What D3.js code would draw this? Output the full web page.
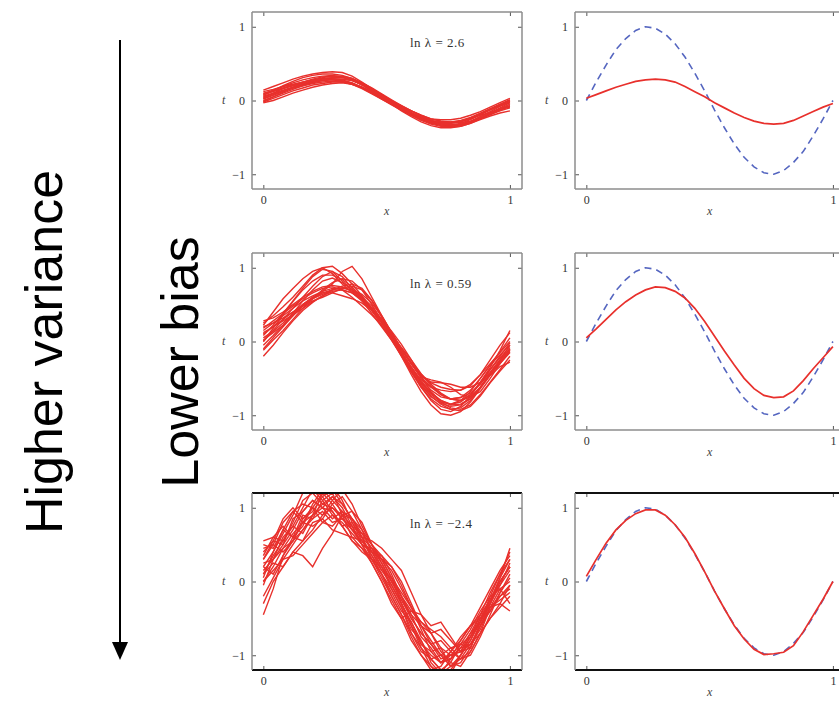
<!DOCTYPE html>
<html>
<head>
<meta charset="utf-8">
<script src="https://cdn.jsdelivr.net/npm/d3@7"></script>
<style>
  body { margin: 0; background: #fff; }
  svg { display: block; }
</style>
</head>
<body>
<svg id="chart" width="839" height="702"></svg>
<script>
const xs = [0, 0.04, 0.08, 0.12, 0.16, 0.2, 0.24, 0.28, 0.32, 0.36, 0.4, 0.44, 0.48,
            0.52, 0.56, 0.6, 0.64, 0.68, 0.72, 0.76, 0.8, 0.84, 0.88, 0.92, 0.96, 1];

const lambdaLabels = ["ln λ = 2.6", "ln λ = 0.59", "ln λ = −2.4"];
const xTicks = [0, 1];
const yTicks = [-1, 0, 1];

// blue dashed curve (true function)
const truth = [0, 0.25, 0.48, 0.69, 0.84, 0.95, 1.0, 0.98, 0.9, 0.77, 0.59, 0.37, 0.13,
               -0.13, -0.37, -0.59, -0.77, -0.9, -0.98, -1.0, -0.95, -0.84, -0.69, -0.48, -0.25, 0];

// red average fit, one per row
const avgTop = [0.03, 0.08, 0.13, 0.18, 0.22, 0.26, 0.28, 0.29, 0.28, 0.25, 0.19, 0.12, 0.05,
                -0.03, -0.1, -0.17, -0.23, -0.28, -0.31, -0.32, -0.31, -0.27, -0.21, -0.15, -0.09, -0.04];
const avgMid = [0.05, 0.17, 0.3, 0.43, 0.54, 0.63, 0.7, 0.74, 0.73, 0.68, 0.59, 0.45, 0.27,
                0.07, -0.13, -0.32, -0.5, -0.64, -0.73, -0.76, -0.75, -0.67, -0.53, -0.37, -0.22, -0.07];
const avgBottom = [0.07, 0.3, 0.52, 0.7, 0.83, 0.92, 0.97, 0.97, 0.9, 0.77, 0.6, 0.38, 0.13,
                   -0.13, -0.37, -0.6, -0.78, -0.92, -0.99, -0.98, -0.96, -0.87, -0.68, -0.46, -0.24, 0.0];

// individual fits, left column
const fitsTop = [
  [0.09,0.14,0.19,0.24,0.28,0.31,0.33,0.34,0.32,0.28,0.21,0.13,0.05,-0.03,-0.11,-0.19,-0.26,-0.31,-0.34,-0.35,-0.33,-0.29,-0.22,-0.15,-0.08,-0.02],
  [-0.02,0.03,0.08,0.13,0.17,0.21,0.23,0.25,0.25,0.23,0.18,0.12,0.06,-0.01,-0.08,-0.14,-0.2,-0.25,-0.28,-0.29,-0.28,-0.25,-0.2,-0.16,-0.12,-0.09],
  [0.04,0.1,0.16,0.21,0.25,0.28,0.3,0.3,0.28,0.24,0.17,0.1,0.02,-0.06,-0.13,-0.2,-0.26,-0.3,-0.33,-0.33,-0.31,-0.26,-0.19,-0.12,-0.06,0.0],
  [0.0,0.05,0.1,0.15,0.2,0.24,0.27,0.29,0.29,0.27,0.22,0.15,0.08,0.0,-0.07,-0.14,-0.2,-0.25,-0.28,-0.3,-0.3,-0.28,-0.24,-0.19,-0.14,-0.1],
  [0.12,0.15,0.19,0.22,0.25,0.28,0.3,0.31,0.31,0.28,0.23,0.16,0.08,0.0,-0.08,-0.16,-0.23,-0.29,-0.33,-0.35,-0.34,-0.3,-0.24,-0.17,-0.1,-0.03],
  [0.02,0.07,0.12,0.17,0.21,0.25,0.27,0.28,0.27,0.24,0.18,0.11,0.03,-0.05,-0.12,-0.18,-0.24,-0.28,-0.3,-0.31,-0.29,-0.25,-0.19,-0.13,-0.07,-0.01],
  [0.06,0.1,0.14,0.18,0.22,0.26,0.29,0.31,0.31,0.29,0.24,0.17,0.09,0.01,-0.07,-0.14,-0.21,-0.27,-0.31,-0.33,-0.33,-0.3,-0.25,-0.19,-0.13,-0.07],
  [-0.01,0.05,0.11,0.17,0.22,0.26,0.28,0.28,0.26,0.22,0.16,0.09,0.02,-0.05,-0.12,-0.19,-0.24,-0.28,-0.3,-0.3,-0.28,-0.24,-0.18,-0.12,-0.07,-0.03],
  [0.08,0.12,0.16,0.2,0.23,0.26,0.28,0.29,0.29,0.27,0.22,0.15,0.07,-0.02,-0.1,-0.18,-0.25,-0.3,-0.33,-0.34,-0.32,-0.28,-0.22,-0.16,-0.11,-0.07],
  [0.03,0.08,0.13,0.18,0.23,0.27,0.31,0.33,0.33,0.3,0.24,0.16,0.07,-0.02,-0.1,-0.17,-0.23,-0.27,-0.29,-0.29,-0.27,-0.23,-0.17,-0.11,-0.05,0.01],
  [0.05,0.09,0.13,0.17,0.2,0.23,0.25,0.26,0.25,0.22,0.17,0.1,0.03,-0.04,-0.11,-0.18,-0.24,-0.29,-0.32,-0.33,-0.32,-0.29,-0.24,-0.18,-0.13,-0.08],
  [0.1,0.13,0.17,0.21,0.25,0.29,0.32,0.33,0.32,0.28,0.21,0.13,0.04,-0.04,-0.12,-0.19,-0.25,-0.29,-0.31,-0.31,-0.29,-0.24,-0.18,-0.12,-0.06,-0.01],
  [0.14,0.19,0.24,0.29,0.33,0.36,0.38,0.39,0.38,0.33,0.25,0.16,0.07,-0.02,-0.1,-0.17,-0.22,-0.25,-0.26,-0.26,-0.24,-0.2,-0.15,-0.09,-0.03,0.03],
  [-0.03,0.0,0.05,0.1,0.14,0.18,0.21,0.23,0.24,0.22,0.18,0.12,0.04,-0.05,-0.14,-0.22,-0.29,-0.34,-0.37,-0.37,-0.35,-0.31,-0.26,-0.21,-0.17,-0.14],
  [0.07,0.13,0.2,0.26,0.31,0.34,0.36,0.36,0.34,0.3,0.23,0.15,0.06,-0.03,-0.12,-0.2,-0.27,-0.32,-0.35,-0.36,-0.35,-0.31,-0.25,-0.18,-0.11,-0.05]
];

const fitsMid = [
  [0.25,0.35,0.47,0.6,0.75,0.9,1.0,1.02,0.92,0.78,0.62,0.45,0.26,0.06,-0.15,-0.35,-0.55,-0.7,-0.8,-0.85,-0.82,-0.72,-0.56,-0.38,-0.2,-0.02],
  [-0.2,-0.05,0.12,0.28,0.42,0.53,0.62,0.7,0.73,0.7,0.6,0.45,0.27,0.07,-0.14,-0.34,-0.53,-0.69,-0.8,-0.86,-0.85,-0.77,-0.62,-0.45,-0.3,-0.15],
  [0.1,0.2,0.3,0.4,0.5,0.58,0.64,0.7,0.75,0.78,0.72,0.56,0.33,0.1,-0.12,-0.3,-0.45,-0.56,-0.62,-0.65,-0.66,-0.6,-0.45,-0.25,-0.05,0.12],
  [0.0,0.15,0.3,0.45,0.6,0.75,0.88,0.95,0.88,0.72,0.55,0.38,0.2,0.02,-0.18,-0.4,-0.62,-0.8,-0.92,-0.95,-0.88,-0.74,-0.56,-0.38,-0.22,-0.08],
  [0.2,0.25,0.32,0.4,0.48,0.55,0.6,0.66,0.72,0.75,0.7,0.55,0.35,0.12,-0.1,-0.3,-0.48,-0.62,-0.72,-0.78,-0.8,-0.75,-0.62,-0.45,-0.28,-0.12],
  [0.08,0.22,0.38,0.55,0.72,0.88,0.98,0.95,0.82,0.7,0.6,0.48,0.3,0.08,-0.15,-0.36,-0.56,-0.72,-0.82,-0.85,-0.8,-0.68,-0.5,-0.32,-0.18,-0.05],
  [-0.1,0.05,0.2,0.35,0.5,0.6,0.68,0.72,0.72,0.7,0.64,0.52,0.34,0.12,-0.1,-0.3,-0.47,-0.55,-0.56,-0.58,-0.62,-0.62,-0.55,-0.42,-0.25,-0.05],
  [0.15,0.25,0.35,0.45,0.55,0.62,0.68,0.78,0.95,1.02,0.85,0.6,0.35,0.12,-0.1,-0.3,-0.5,-0.66,-0.75,-0.78,-0.76,-0.7,-0.58,-0.42,-0.25,-0.1],
  [0.02,0.12,0.22,0.35,0.48,0.58,0.66,0.7,0.7,0.66,0.58,0.44,0.26,0.05,-0.16,-0.38,-0.58,-0.74,-0.85,-0.92,-0.94,-0.88,-0.74,-0.56,-0.4,-0.25],
  [0.28,0.32,0.4,0.5,0.6,0.68,0.74,0.76,0.74,0.68,0.58,0.44,0.26,0.05,-0.16,-0.36,-0.52,-0.62,-0.66,-0.68,-0.66,-0.58,-0.45,-0.3,-0.15,0.0],
  [0.0,0.18,0.36,0.54,0.7,0.82,0.9,0.9,0.84,0.74,0.6,0.42,0.22,0.02,-0.2,-0.42,-0.62,-0.78,-0.88,-0.92,-0.9,-0.8,-0.62,-0.44,-0.28,-0.14],
  [0.12,0.2,0.28,0.36,0.45,0.54,0.62,0.68,0.7,0.66,0.56,0.42,0.25,0.08,-0.08,-0.25,-0.44,-0.6,-0.72,-0.78,-0.76,-0.66,-0.5,-0.32,-0.14,0.05],
  [-0.05,0.08,0.22,0.38,0.55,0.7,0.82,0.86,0.8,0.7,0.58,0.44,0.3,0.14,-0.04,-0.25,-0.48,-0.68,-0.82,-0.9,-0.92,-0.86,-0.72,-0.55,-0.38,-0.2],
  [0.18,0.28,0.38,0.48,0.58,0.66,0.72,0.74,0.7,0.6,0.48,0.36,0.22,0.04,-0.18,-0.4,-0.6,-0.75,-0.84,-0.88,-0.86,-0.78,-0.62,-0.44,-0.26,-0.1],
  [0.22,0.4,0.58,0.72,0.85,0.95,1.0,0.92,0.78,0.66,0.55,0.42,0.28,0.1,-0.1,-0.3,-0.48,-0.52,-0.55,-0.62,-0.72,-0.75,-0.68,-0.5,-0.3,-0.12],
  [-0.12,0.02,0.15,0.3,0.45,0.58,0.7,0.8,0.85,0.82,0.7,0.5,0.28,0.04,-0.2,-0.45,-0.68,-0.86,-0.98,-1.0,-0.95,-0.82,-0.64,-0.46,-0.34,-0.28],
  [0.05,0.14,0.25,0.38,0.5,0.6,0.66,0.66,0.62,0.58,0.52,0.42,0.28,0.1,-0.1,-0.28,-0.44,-0.58,-0.7,-0.78,-0.8,-0.72,-0.55,-0.35,-0.12,0.15]
];

const fitsBottom = [
  [0.3,0.55,0.5,0.85,0.95,1.1,1.0,1.15,1.05,0.85,0.7,0.5,0.35,0.1,-0.2,-0.45,-0.75,-0.9,-1.1,-1.0,-0.95,-0.7,-0.55,-0.2,0.1,0.3],
  [-0.45,-0.1,0.35,0.6,0.75,1.05,1.25,1.1,0.95,0.7,0.6,0.45,0.2,-0.1,-0.35,-0.65,-0.8,-1.05,-1.2,-1.1,-0.85,-0.9,-0.6,-0.35,-0.3,-0.4],
  [0.5,0.45,0.7,0.6,0.9,0.85,1.1,1.2,0.9,0.6,0.55,0.4,0.15,0.05,-0.3,-0.55,-0.85,-0.95,-0.9,-1.15,-1.0,-0.8,-0.5,-0.3,0.05,0.45],
  [0.1,0.25,0.2,0.4,0.35,0.2,0.45,0.65,0.9,0.95,0.8,0.5,0.3,0.05,-0.2,-0.5,-0.7,-0.85,-1.0,-1.05,-0.9,-0.7,-0.45,-0.25,-0.05,0.15],
  [0.2,0.4,0.65,0.9,1.2,1.3,1.15,0.95,0.75,0.8,0.6,0.3,0.1,-0.15,-0.4,-0.55,-0.8,-1.1,-1.25,-1.05,-0.8,-0.6,-0.5,-0.4,-0.15,0.05],
  [-0.05,0.3,0.45,0.55,0.7,0.85,0.95,0.8,0.85,0.7,0.5,0.4,0.3,0.2,-0.05,-0.35,-0.6,-0.7,-0.65,-0.8,-0.95,-0.85,-0.6,-0.4,-0.2,-0.1],
  [0.4,0.55,0.85,1.0,0.85,0.95,1.15,1.25,1.05,0.85,0.6,0.35,0.1,-0.2,-0.45,-0.7,-0.9,-1.05,-1.2,-1.25,-1.0,-0.8,-0.55,-0.3,0.0,0.2],
  [0.15,0.3,0.6,0.75,0.65,0.9,1.0,0.95,0.75,0.55,0.45,0.25,0.0,-0.3,-0.5,-0.4,-0.45,-0.7,-0.95,-1.1,-1.15,-0.95,-0.7,-0.5,-0.3,-0.05],
  [0.55,0.6,0.55,0.75,1.0,1.25,1.1,0.9,0.8,0.65,0.5,0.45,0.25,0.0,-0.25,-0.5,-0.7,-0.85,-0.8,-0.95,-1.05,-0.85,-0.65,-0.35,-0.2,-0.05],
  [0.0,0.2,0.45,0.65,0.8,0.75,0.85,1.05,1.15,0.95,0.7,0.4,0.2,-0.05,-0.3,-0.6,-0.9,-1.15,-1.3,-1.2,-1.0,-0.75,-0.45,-0.15,0.1,0.4],
  [0.25,0.3,0.5,0.7,0.95,1.1,1.0,0.85,0.95,0.85,0.65,0.45,0.3,0.15,-0.1,-0.35,-0.55,-0.65,-0.75,-0.9,-0.85,-0.65,-0.4,-0.2,-0.1,0.0],
  [-0.2,0.05,0.3,0.5,0.7,0.9,1.05,1.0,0.85,0.7,0.55,0.35,0.15,-0.05,-0.3,-0.6,-0.85,-1.0,-1.1,-1.05,-0.9,-0.85,-0.7,-0.5,-0.35,-0.2],
  [0.35,0.6,0.75,0.6,0.55,0.7,0.9,1.1,1.25,1.05,0.75,0.5,0.25,0.0,-0.25,-0.45,-0.6,-0.85,-1.05,-1.0,-0.85,-0.75,-0.55,-0.3,-0.05,0.25],
  [0.05,0.4,0.7,0.95,1.05,1.0,0.9,1.0,0.9,0.75,0.5,0.3,0.1,-0.1,-0.35,-0.7,-0.95,-1.05,-1.0,-0.9,-1.05,-1.0,-0.75,-0.45,-0.15,0.1],
  [0.45,0.5,0.4,0.55,0.8,1.0,1.2,1.3,1.1,0.8,0.55,0.4,0.35,0.2,0.0,-0.3,-0.6,-0.8,-1.0,-1.15,-1.1,-0.9,-0.55,-0.25,0.05,0.3],
  [-0.3,0.0,0.2,0.4,0.55,0.8,0.85,0.7,0.65,0.6,0.45,0.3,0.05,-0.2,-0.45,-0.75,-1.0,-1.2,-1.15,-0.95,-0.75,-0.6,-0.45,-0.35,-0.25,-0.15],
  [0.2,0.1,0.35,0.55,0.85,1.0,0.8,0.75,0.9,0.85,0.6,0.55,0.45,0.3,0.15,-0.15,-0.45,-0.6,-0.55,-0.75,-0.95,-0.9,-0.6,-0.3,0.0,0.2],
  [0.1,0.35,0.55,0.8,1.1,1.2,1.05,1.15,1.0,0.75,0.5,0.25,0.0,-0.25,-0.5,-0.8,-1.0,-1.15,-1.25,-1.15,-1.05,-0.95,-0.7,-0.35,-0.1,-0.3],
  [0.0,0.15,0.3,0.35,0.5,0.65,0.8,0.9,0.75,0.55,0.4,0.3,0.2,0.0,-0.2,-0.4,-0.55,-0.7,-0.9,-1.0,-0.95,-0.75,-0.5,-0.25,0.0,0.2],
  [0.3,0.5,0.8,0.95,0.8,0.9,1.2,1.05,0.85,0.75,0.65,0.5,0.3,0.05,-0.15,-0.35,-0.65,-0.95,-1.1,-0.95,-0.8,-0.6,-0.35,-0.1,0.15,0.35]
];

const rows = [
  { fits: fitsTop, avg: avgTop, label: lambdaLabels[0] },
  { fits: fitsMid, avg: avgMid, label: lambdaLabels[1] },
  { fits: fitsBottom, avg: avgBottom, label: lambdaLabels[2] }
];

// layout ---------------------------------------------
const svg = d3.select("#chart");
const RED = "#e8302c";
const BLUE = "#5566c0";
const FRAME = "#8c8c8c";
const serif = "'Liberation Serif', 'DejaVu Serif', serif";

const rowTop = [12, 253, 493];
const rowH = 177;
const colLeft = [252, 575];
const colW = 270;

const line = (x, y) => d3.line()
  .x((d, i) => x(xs[i]))
  .y(d => y(d));

const fmt = d => d < 0 ? "−" + Math.abs(d) : String(d);

let clipId = 0;

function panel(left, top, row, isAverage, ri) {
  // data range is a bit wider than [0,1] x [-1,1], like the original plot
  const x = d3.scaleLinear().domain([-0.046, 1.049]).range([left, left + colW]);
  const y = d3.scaleLinear().domain([-1.2, 1.2]).range([top + rowH, top]);

  const g = svg.append("g");
  const id = "clip" + (clipId++);
  g.append("clipPath").attr("id", id)
    .append("rect")
    .attr("x", left).attr("y", top)
    .attr("width", colW).attr("height", rowH);

  const plot = g.append("g").attr("clip-path", `url(#${id})`);

  if (!isAverage) {
    plot.selectAll("path.fit")
      .data(row.fits)
      .join("path")
      .attr("class", "fit")
      .attr("d", line(x, y))
      .attr("fill", "none")
      .attr("stroke", RED)
      .attr("stroke-width", 1.4);
  } else {
    plot.append("path")
      .attr("d", line(x, y)(truth))
      .attr("fill", "none")
      .attr("stroke", BLUE)
      .attr("stroke-width", 1.6)
      .attr("stroke-dasharray", "7,5");
    plot.append("path")
      .attr("d", line(x, y)(row.avg))
      .attr("fill", "none")
      .attr("stroke", RED)
      .attr("stroke-width", 1.7);
  }

  // inward ticks on all four sides
  const axStyle = a => a.call(s => s.select(".domain").remove())
    .call(s => s.selectAll(".tick line").attr("stroke", "#555"))
    .call(s => s.selectAll(".tick text")
      .attr("font-family", serif).attr("font-size", 12).attr("fill", "#333"));

  g.append("g").attr("transform", `translate(${left},0)`)
    .call(d3.axisLeft(y).tickValues(yTicks).tickSizeInner(-4).tickSizeOuter(0).tickPadding(7)
      .tickFormat(fmt))
    .call(axStyle);
  g.append("g").attr("transform", `translate(${left + colW},0)`)
    .call(d3.axisRight(y).tickValues(yTicks).tickSizeInner(-4).tickSizeOuter(0).tickFormat(""))
    .call(axStyle);
  g.append("g").attr("transform", `translate(0,${top + rowH})`)
    .call(d3.axisBottom(x).tickValues(xTicks).tickSizeInner(-4).tickSizeOuter(0).tickPadding(6)
      .tickFormat(fmt))
    .call(axStyle);
  g.append("g").attr("transform", `translate(0,${top})`)
    .call(d3.axisTop(x).tickValues(xTicks).tickSizeInner(-4).tickSizeOuter(0).tickFormat(""))
    .call(axStyle);

  // frame: the bottom row has dark top/bottom edges in the original
  const dark = ri === 2;
  g.append("line").attr("x1", left).attr("x2", left + colW).attr("y1", top).attr("y2", top)
    .attr("stroke", dark ? "#111" : FRAME).attr("stroke-width", dark ? 2 : 1.5);
  g.append("line").attr("x1", left).attr("x2", left + colW).attr("y1", top + rowH).attr("y2", top + rowH)
    .attr("stroke", dark ? "#111" : FRAME).attr("stroke-width", dark ? 2 : 1.5);
  g.append("line").attr("x1", left).attr("x2", left).attr("y1", top).attr("y2", top + rowH)
    .attr("stroke", FRAME).attr("stroke-width", 1.5);
  g.append("line").attr("x1", left + colW).attr("x2", left + colW).attr("y1", top).attr("y2", top + rowH)
    .attr("stroke", FRAME).attr("stroke-width", 1.5);

  // axis titles
  g.append("text")
    .attr("x", left - 30).attr("y", y(0)).attr("dy", "0.32em")
    .attr("font-family", serif).attr("font-style", "italic").attr("font-size", 12).attr("fill", "#444")
    .text("t");
  g.append("text")
    .attr("x", x(0.5)).attr("y", top + rowH + 26)
    .attr("text-anchor", "middle")
    .attr("font-family", serif).attr("font-style", "italic").attr("font-size", 12).attr("fill", "#444")
    .text("x");

  if (!isAverage) {
    g.append("text")
      .attr("x", 410).attr("y", top + 31).attr("dy", "0.32em")
      .attr("font-family", serif).attr("font-size", 13).attr("fill", "#333")
      .attr("letter-spacing", 0.5)
      .text(row.label);
  }
}

rows.forEach((row, ri) => {
  panel(colLeft[0], rowTop[ri], row, false, ri);
  panel(colLeft[1], rowTop[ri], row, true, ri);
});

// the big arrow + side labels
svg.append("line")
  .attr("x1", 120).attr("x2", 120).attr("y1", 40).attr("y2", 645)
  .attr("stroke", "#000").attr("stroke-width", 2);
svg.append("path")
  .attr("d", "M112,642 L128,642 L120,660 Z")
  .attr("fill", "#000");

svg.append("text")
  .attr("transform", "translate(62,352) rotate(-90)")
  .attr("text-anchor", "middle")
  .attr("font-family", "'Liberation Sans', Arial, sans-serif")
  .attr("font-size", 52)
  .text("Higher variance");

svg.append("text")
  .attr("transform", "translate(198,362) rotate(-90)")
  .attr("text-anchor", "middle")
  .attr("font-family", "'Liberation Sans', Arial, sans-serif")
  .attr("font-size", 52)
  .text("Lower bias");
</script>
</body>
</html>
